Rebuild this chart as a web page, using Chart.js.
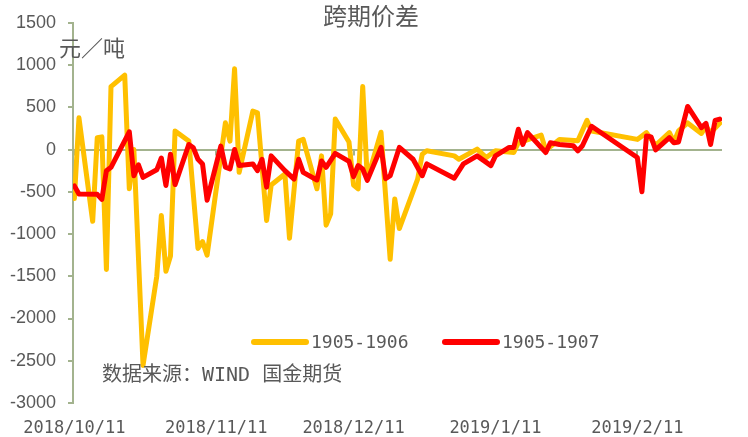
<!DOCTYPE html>
<html>
<head>
<meta charset="utf-8">
<script src="https://cdn.jsdelivr.net/npm/chart.js@4.4.0/dist/chart.umd.min.js"></script>
<style>
  html, body { margin: 0; padding: 0; background: #fff; }
  #wrap { width: 748px; height: 437px; }
</style>
</head>
<body>
<div id="wrap"><canvas id="c" width="748" height="437"></canvas></div>
<script>
var chartTitle = '跨期价差';
var unitLabel = '元／吨';
var sourceNote = '数据来源：WIND 国金期货';
var seriesNames = ['1905-1906', '1905-1907'];
var tickDates = ['2018/10/11', '2018/11/11', '2018/12/11', '2019/1/11', '2019/2/11'];
var yMin = -3000, yMax = 1500, yStep = 500;

var dates1906 = [
  '2018/10/11', '2018/10/12', '2018/10/15', '2018/10/16', '2018/10/17', '2018/10/18', '2018/10/19',
  '2018/10/22', '2018/10/23', '2018/10/24', '2018/10/26', '2018/10/29', '2018/10/30', '2018/10/31',
  '2018/11/1', '2018/11/2', '2018/11/5', '2018/11/7', '2018/11/8', '2018/11/9', '2018/11/13',
  '2018/11/14', '2018/11/15', '2018/11/16', '2018/11/19', '2018/11/20', '2018/11/22', '2018/11/23',
  '2018/11/26', '2018/11/27', '2018/11/29', '2018/11/30', '2018/12/3', '2018/12/4', '2018/12/5',
  '2018/12/6', '2018/12/7', '2018/12/10', '2018/12/11', '2018/12/12', '2018/12/13', '2018/12/14',
  '2018/12/17', '2018/12/19', '2018/12/20', '2018/12/21', '2018/12/25', '2018/12/26', '2018/12/27',
  '2019/1/2', '2019/1/3', '2019/1/7', '2019/1/9', '2019/1/11', '2019/1/15', '2019/1/16',
  '2019/1/21', '2019/1/22', '2019/1/25', '2019/1/29', '2019/1/31', '2019/2/1', '2019/2/11',
  '2019/2/13', '2019/2/15', '2019/2/18', '2019/2/19', '2019/2/20', '2019/2/22', '2019/2/25',
  '2019/2/26', '2019/2/27', '2019/3/1'
];
var spread1906 = [
  -580, 375, -850, 140, 150, -1420, 745,
  880, -465, 0, -2555, -1500, -780, -1440,
  -1260, 220, 100, -1170, -1090, -1250, 316,
  100, 955, -270, 455, 435, -840, -420,
  -290, -1050, 100, 120, -465, -75, -895,
  -760, 360, 90, -420, -465, 745, -350,
  205, -1300, -585, -935, -350, -55, -15,
  -75, -115, 5, -95, -15, -35, 80,
  170, -10, 120, 105, 345, 220, 120,
  200, 50, 200, 90, 220, 315, 190,
  275, 200, 310
];

var dates1907 = [
  '2018/10/11', '2018/10/12', '2018/10/16', '2018/10/17', '2018/10/18', '2018/10/19', '2018/10/23',
  '2018/10/24', '2018/10/25', '2018/10/26', '2018/10/29', '2018/10/30', '2018/10/31', '2018/11/1',
  '2018/11/2', '2018/11/5', '2018/11/6', '2018/11/7', '2018/11/8', '2018/11/9', '2018/11/12',
  '2018/11/13', '2018/11/14', '2018/11/15', '2018/11/16', '2018/11/19', '2018/11/20', '2018/11/21',
  '2018/11/22', '2018/11/23', '2018/11/26', '2018/11/28', '2018/11/29', '2018/11/30', '2018/12/3',
  '2018/12/4', '2018/12/5', '2018/12/7', '2018/12/10', '2018/12/11', '2018/12/12', '2018/12/13',
  '2018/12/14', '2018/12/17', '2018/12/18', '2018/12/19', '2018/12/21', '2018/12/24', '2018/12/26',
  '2018/12/27', '2019/1/2', '2019/1/4', '2019/1/7', '2019/1/10', '2019/1/11', '2019/1/14',
  '2019/1/15', '2019/1/16', '2019/1/17', '2019/1/18', '2019/1/22', '2019/1/23', '2019/1/25',
  '2019/1/28', '2019/1/29', '2019/1/30', '2019/2/1', '2019/2/11', '2019/2/12', '2019/2/13',
  '2019/2/14', '2019/2/15', '2019/2/18', '2019/2/19', '2019/2/20', '2019/2/22', '2019/2/25',
  '2019/2/26', '2019/2/27', '2019/2/28', '2019/3/1'
];
var spread1907 = [
  -430, -525, -530, -590, -250, -210, 210,
  -310, -180, -330, -240, -100, -425, -55,
  -415, 60, 20, -115, -170, -600, 40,
  -210, -230, 0, -190, -170, -250, -115,
  -445, -75, -250, -350, -115, -270, -360,
  -135, -210, -45, -140, -320, -190, -230,
  -365, 25, -345, -310, 25, -115, -310,
  -170, -340, -170, -75, -190, -75, 25,
  25, 240, 60, 200, -35, 80, 60,
  45, -15, 45, 275, -95, -500, 160,
  150, -5, 140, 80, 90, 510, 260,
  310, 60, 345, 360
];

var axisColor = '#a3b38e';
var textColor = '#595959';
var lineColors = ['#ffc000', '#ff0000'];

var BASE_DAY = Date.UTC(2018, 9, 11);
function dayNum(s) {
  var p = s.split('/');
  return Math.round((Date.UTC(+p[0], +p[1] - 1, +p[2]) - BASE_DAY) / 86400000);
}
function toPoints(dates, vals) {
  return dates.map(function (d, i) { return { x: dayNum(d), y: vals[i] }; });
}
var tickDays = tickDates.map(dayNum);

// title, unit, legend, source note and the little ticks on the zero line
var decorPlugin = {
  id: 'decor',
  beforeDatasetsDraw: function (chart) {
    var ctx = chart.ctx, xs = chart.scales.x, ys = chart.scales.y;
    var y0 = ys.getPixelForValue(0);
    ctx.save();
    ctx.strokeStyle = axisColor;
    ctx.lineWidth = 2;
    tickDays.forEach(function (d) {
      var px = Math.round(xs.getPixelForValue(d));
      ctx.beginPath();
      ctx.moveTo(px, y0);
      ctx.lineTo(px, y0 + 6);
      ctx.stroke();
    });
    ctx.restore();
  },
  afterDraw: function (chart) {
    var ctx = chart.ctx;
    ctx.save();
    ctx.fillStyle = textColor;
    ctx.textBaseline = 'middle';

    ctx.font = '24px "Noto Sans CJK SC", sans-serif';
    ctx.textAlign = 'center';
    ctx.fillText(chartTitle, 371, 16);

    ctx.font = '22px "Noto Sans CJK SC", sans-serif';
    ctx.textAlign = 'left';
    ctx.fillText(unitLabel, 59, 48);

    ctx.font = '20px "DejaVu Sans Mono", "Noto Sans CJK SC", monospace';
    ctx.fillText(sourceNote, 102, 376);

    var items = [{ x: 252, label: seriesNames[0], color: lineColors[0] },
                 { x: 443, label: seriesNames[1], color: lineColors[1] }];
    ctx.font = '18px "DejaVu Sans Mono", monospace';
    items.forEach(function (it) {
      ctx.strokeStyle = it.color;
      ctx.lineWidth = 6;
      ctx.lineCap = 'round';
      ctx.beginPath();
      ctx.moveTo(it.x + 2, 342);
      ctx.lineTo(it.x + 54, 342);
      ctx.stroke();
      ctx.fillStyle = textColor;
      ctx.fillText(it.label, it.x + 59, 343);
    });
    ctx.restore();
  }
};

new Chart(document.getElementById('c').getContext('2d'), {
  type: 'line',
  data: {
    datasets: [
      {
        label: seriesNames[0],
        data: toPoints(dates1906, spread1906),
        borderColor: lineColors[0],
        borderWidth: 5,
        borderJoinStyle: 'round',
        borderCapStyle: 'round',
        pointRadius: 0,
        tension: 0,
        order: 1
      },
      {
        label: seriesNames[1],
        data: toPoints(dates1907, spread1907),
        borderColor: lineColors[1],
        borderWidth: 5,
        borderJoinStyle: 'round',
        borderCapStyle: 'round',
        pointRadius: 0,
        tension: 0,
        order: 0
      }
    ]
  },
  options: {
    responsive: false,
    animation: false,
    layout: { padding: { top: 19, right: 26, bottom: 0, left: 0 } },
    plugins: {
      legend: { display: false },
      title: { display: false },
      tooltip: { enabled: false }
    },
    scales: {
      x: {
        type: 'linear',
        min: -0.3,
        max: 141.5,
        grid: { display: false },
        border: { display: false },
        afterBuildTicks: function (scale) {
          scale.ticks = tickDays.map(function (d) { return { value: d }; });
        },
        afterFit: function (scale) { scale.height = 34; },
        ticks: {
          autoSkip: false,
          maxRotation: 0,
          padding: 7,
          color: textColor,
          font: { family: '"DejaVu Sans Mono", monospace', size: 17 },
          callback: function (v) {
            var i = tickDays.indexOf(v);
            return i >= 0 ? tickDates[i] : '';
          }
        }
      },
      y: {
        min: yMin,
        max: yMax,
        afterFit: function (scale) { scale.width = 73; },
        border: { display: true, color: axisColor, width: 2 },
        grid: {
          color: function (c) { return c.tick && c.tick.value === 0 ? axisColor : 'rgba(0,0,0,0)'; },
          lineWidth: 2,
          tickColor: axisColor,
          tickLength: 5
        },
        ticks: {
          stepSize: yStep,
          padding: 12,
          color: textColor,
          font: { family: '"Liberation Sans", Arial, sans-serif', size: 18 },
          callback: function (v) { return String(v); }
        }
      }
    }
  },
  plugins: [decorPlugin]
});
</script>
</body>
</html>
